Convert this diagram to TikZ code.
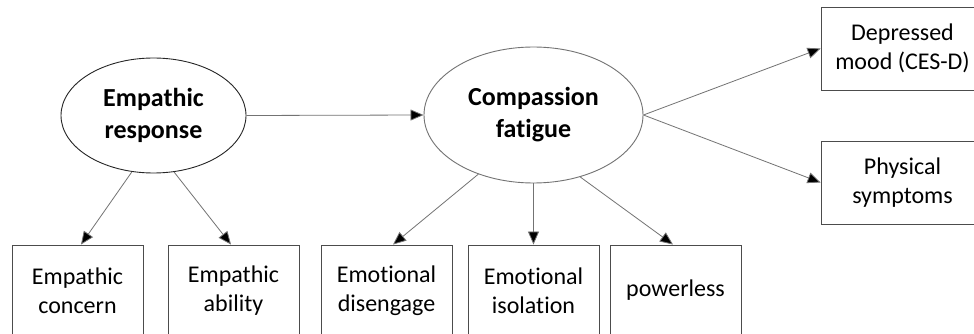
\documentclass[tikz,border=0pt]{standalone}
\usepackage{fontspec}
\setmainfont{Carlito}[Ligatures=NoCommon]
\usetikzlibrary{shapes.geometric,arrows.meta}
\begin{document}
\begin{tikzpicture}[x=1pt,y=-1pt,
  latent/.style={ellipse,draw,line width=0.9pt,align=center,inner sep=0pt,
    font=\fontsize{26}{32}\selectfont\bfseries},
  measure/.style={rectangle,draw=black!70,line width=0.9pt,align=center,inner sep=0pt,
    minimum width=131pt,font=\fontsize{24}{29}\selectfont},
  path/.style={draw=black!55,line width=0.8pt,-{Triangle[length=13pt,width=11pt,fill=black]}}]
\useasboundingbox (0,0) rectangle (974,334);
\fill[white] (0,0) rectangle (974,334);
\clip (0,0) rectangle (974,334);

% latent constructs
\node[latent,draw=black!85,minimum width=185pt,minimum height=115pt] (er) at (153.5,115.5) {Empathic\\response};
\node[latent,draw=black!55,minimum width=219pt,minimum height=136pt] (cf) at (533.5,115) {Compassion\\fatigue};

% indicator boxes (lower edge runs off the page)
\node[measure,minimum height=91pt] (ec) at (77.5,290.5) {Empathic\\concern};
\node[measure,minimum height=91pt] (ea) at (233.5,290.5) {Empathic\\ability};
\node[measure,minimum height=91pt] (ed) at (386.5,290.5) {Emotional\\disengage};
\node[measure,minimum height=91pt] (ei) at (533.5,290.5) {Emotional\\isolation};
\node[measure,minimum height=91pt] (pw) at (675.5,290.5) {powerless};

% outcome boxes (right edge runs off the page)
\node[measure,minimum width=163pt,minimum height=83pt] (dm) at (902.5,48.5) {Depressed\\mood (CES-D)};
\node[measure,minimum width=163pt,minimum height=83pt] (ps) at (902.5,182.5) {Physical\\symptoms};

% paths
\draw[path] (er.east) -- (cf.west);
\draw[path] (er.249) -- ([xshift=3.5pt]ec.north);
\draw[path] (er.290) -- ([xshift=-2.5pt]ea.north);
\draw[path] (cf.227) -- ([xshift=6.5pt]ed.north);
\draw[path] (cf.south) -- (ei.north);
\draw[path] (cf.307) -- ([xshift=-2.5pt]pw.north);
\draw[path] (cf.east) -- (dm.west);
\draw[path] (cf.east) -- (ps.west);
\end{tikzpicture}
\end{document}
